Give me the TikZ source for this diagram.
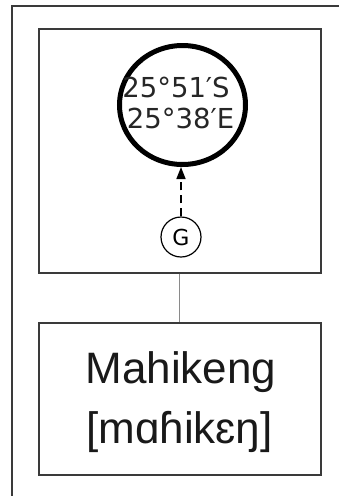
\documentclass[tikz,border=0pt]{standalone}
\usepackage{fontspec}
\setmainfont{Liberation Sans}
\newfontfamily\verd{DejaVu Sans}
\usetikzlibrary{shapes.geometric,arrows.meta}
\definecolor{frame}{HTML}{3A3A3A}
\definecolor{conn}{HTML}{8A8A8A}
\tikzset{
  boxnode/.style={draw=frame, line width=2pt, rectangle, inner sep=0pt},
  coordtext/.style={anchor=base, inner sep=0pt, font=\verd\fontsize{27.5}{31}\selectfont, text=black!85},
  nametext/.style={anchor=base, inner sep=0pt, font=\fontsize{44}{60}\selectfont, text=black!90},
}
\begin{document}
\begin{tikzpicture}[x=1pt,y=-1pt]
\useasboundingbox (0,0) rectangle (339,496);
% outer frame
\coordinate (fa) at (12,496);
\coordinate (fb) at (12,6);
\coordinate (fc) at (339,6);
\draw[frame, line width=1.5pt] (fa) -- (fb) -- (fc);
% boxes
\node[boxnode, minimum width=282pt, minimum height=244pt] (topbox) at (179.5,150.5) {};
\node[boxnode, minimum width=282pt, minimum height=152pt] (botbox) at (179.5,398.5) {};
\draw[conn, line width=1pt] (topbox.south) -- (botbox.north);
% big circle
\node[ellipse, draw=black, line width=5pt, minimum width=126pt, minimum height=119pt, inner sep=0pt] (big) at (182.5,105) {};
\node[coordtext] (lat) at (176,97) {25°51′S};
\node[coordtext] (lon) at (180.5,128) {25°38′E};
% G circle
\node[circle, draw=black, line width=1.2pt, minimum size=40pt, inner sep=0pt, font=\verd\fontsize{22}{24}\selectfont] (g) at (181,237) {G};
\draw[line width=1.5pt, dash pattern=on 8pt off 5pt, -{Triangle[length=12pt,width=9pt]}] (g.north) -- (g.north |- big.south);
% names
\node[nametext] (name) at (181,383) {Mahikeng};
\node[nametext] (ipa) at (179.5,443) {[mɑɦikɛŋ]};
\end{tikzpicture}
\end{document}
